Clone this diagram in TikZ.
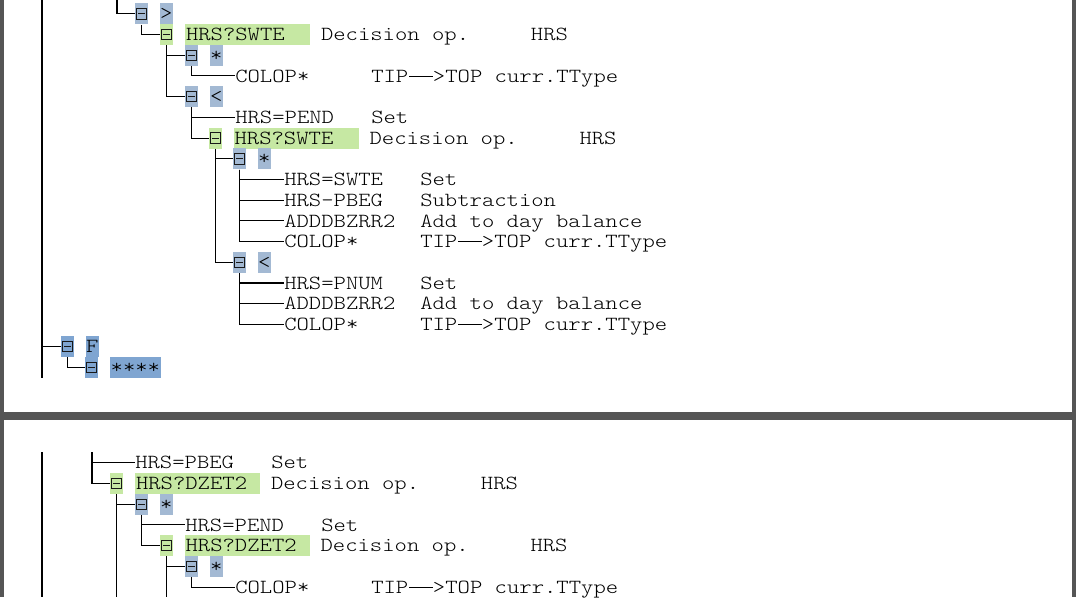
\documentclass[tikz,border=0pt]{standalone}
\usepackage{fontspec}
\usepackage{xcolor}
\usepackage{tikz}
\newfontfamily\codefont{lmmonolt10-regular}[Extension=.otf, FakeStretch=1.176]
\newcommand\treefont{\codefont\fontsize{15pt}{18pt}\selectfont}
\newcommand\longdash{\hspace{0.6pt}\rule[4.1pt]{17.6pt}{0.6pt}\hspace{0.3pt}}
\usetikzlibrary{positioning}

\definecolor{treeblue}{HTML}{A3B9D3}
\definecolor{markblue}{HTML}{7FA5D1}
\definecolor{treegreen}{HTML}{C6E8A3}
\definecolor{panegray}{HTML}{555555}

\tikzset{
  link/.style={line width=0.85pt, black},
  toggle/.style={fill=#1, minimum width=9.75pt, minimum height=15.75pt, inner sep=0pt,
    path picture={
      \draw[line width=0.7pt, black!90]
        ([shift={(-3.9pt,-3.9pt)}]path picture bounding box.center) rectangle
        ([shift={(3.9pt,3.9pt)}]path picture bounding box.center);
      \draw[line width=0.7pt, black!90]
        ([xshift=-2.3pt]path picture bounding box.center) --
        ([xshift=2.3pt]path picture bounding box.center);
    }},
  toggle/.default=treeblue,
  tag/.style={fill=#1, minimum width=9.75pt, minimum height=15.75pt, inner sep=0pt,
    font=\treefont, text height=9.2pt, text depth=0pt},
  tag/.default=treeblue,
  opname/.style={fill=treegreen, minimum height=15.75pt, inner xsep=0.75pt, inner ysep=0pt,
    text width=92.25pt, align=left, font=\treefont, text height=9.2pt, text depth=0pt},
  item/.style={inner sep=0pt, anchor=west, font=\treefont, text height=9.2pt, text depth=0pt}
}

\begin{document}
\begin{tikzpicture}[x=0.75pt, y=-0.75pt]
    \useasboundingbox (0,0) rectangle (1076,597);

    % pane frames
    \fill[panegray] (0,0) rectangle (4,597);
    \fill[panegray] (1072,0) rectangle (1076,597);
    \fill[panegray] (0,412) rectangle (1076,420);

    % upper pane
    \coordinate (up) at (117,0);
    \coordinate (rootup) at (42,0);
    \coordinate (rootdown) at (42,378);

    \node[toggle] (b0) at (141.5,13.8) {};
    \node[tag, right=8.5pt of b0] (l0) {>};
    \node[toggle=treegreen] (b1) at (166.5,34.5) {};
    \node[opname, right=8.6pt of b1] (n1) {HRS?SWTE};
    \node[item] (d1) at ([xshift=102pt]n1.west) {Decision op.~~~~~HRS};
    \node[toggle] (b2) at (191.5,55.2) {};
    \node[tag, right=8.5pt of b2] (l2) {*};
    \node[item] (t3) at (235,75.9) {COLOP*};
    \node[item] (d3) at ([xshift=102pt]t3.west) {TIP\longdash>TOP curr.TType};
    \node[toggle] (b4) at (191.5,96.6) {};
    \node[tag, right=8.5pt of b4] (l4) {<};
    \node[item] (t5) at (235,117.4) {HRS=PEND};
    \node[item] (d5) at ([xshift=102pt]t5.west) {Set};
    \node[toggle=treegreen] (b6) at (215.5,138.1) {};
    \node[opname, right=8.3pt of b6] (n6) {HRS?SWTE};
    \node[item] (d6) at ([xshift=102pt]n6.west) {Decision op.~~~~~HRS};

    % first branch
    \node[toggle] (b7) at (239.5,158.8) {};
    \node[tag, right=8.5pt of b7] (l7) {*};
    \node[item] (t8) at (284,179.5) {HRS=SWTE};
    \node[item] (d8) at ([xshift=102pt]t8.west) {Set};
    \node[item] (t9) at (284,200.2) {HRS-PBEG};
    \node[item] (d9) at ([xshift=102pt]t9.west) {Subtraction};
    \node[item] (t10) at (284,220.9) {ADDDBZRR2};
    \node[item] (d10) at ([xshift=102pt]t10.west) {Add to day balance};
    \node[item] (t11) at (284,241.6) {COLOP*};
    \node[item] (d11) at ([xshift=102pt]t11.west) {TIP\longdash>TOP curr.TType};

    % second branch
    \node[toggle] (b12) at (239.5,262.3) {};
    \node[tag, right=8.5pt of b12] (l12) {<};
    \node[item] (t13) at (284,283.0) {HRS=PNUM};
    \node[item] (d13) at ([xshift=102pt]t13.west) {Set};
    \node[item] (t14) at (284,303.7) {ADDDBZRR2};
    \node[item] (d14) at ([xshift=102pt]t14.west) {Add to day balance};
    \node[item] (t15) at (284,324.5) {COLOP*};
    \node[item] (d15) at ([xshift=102pt]t15.west) {TIP\longdash>TOP curr.TType};

    \node[toggle=markblue] (b16) at (67.5,346.2) {};
    \node[tag=markblue, right=8.5pt of b16] (l16) {F};
    \node[toggle=markblue] (b17) at (91.5,367.2) {};
    \node[tag=markblue, minimum width=38.25pt, right=8.5pt of b17] (l17) {****};

    \draw[link] (up) |- (b0.west);
    \draw[link] (b0.south) |- (b1.west);
    \draw[link] (b1.south) |- (b2.west);
    \draw[link] (b2.south) |- (t3.west);
    \draw[link] (b1.south) |- (b4.west);
    \draw[link] (b4.south) |- (t5.west);
    \draw[link] (b4.south) |- (b6.west);
    \draw[link] (b6.south) |- (b7.west);
    \foreach \t in {t8,t9,t10,t11}
        \draw[link] (b7.south) |- (\t.west);
    \draw[link] (b6.south) |- (b12.west);
    \foreach \t in {t13,t14,t15}
        \draw[link] (b12.south) |- (\t.west);
    \draw[link] (rootup) -- (rootdown);
    \draw[link] (rootup) |- (b16.west);
    \draw[link] (b16.south) |- (b17.west);

    % lower pane
    \coordinate (rootb) at (42,452);
    \coordinate (rootbend) at (42,597);
    \coordinate (upb) at (92,452);
    \coordinate (floor) at (0,597);

    \node[item] (u0) at (135,462.8) {HRS=PBEG};
    \node[item] (e0) at ([xshift=102pt]u0.west) {Set};
    \node[toggle=treegreen] (c1) at (116.5,483.5) {};
    \node[opname, right=8.6pt of c1] (m1) {HRS?DZET2};
    \node[item] (e1) at ([xshift=102pt]m1.west) {Decision op.~~~~~HRS};
    \node[toggle] (c2) at (141.5,504.2) {};
    \node[tag, right=8.5pt of c2] (k2) {*};
    \node[item] (u3) at (185,524.9) {HRS=PEND};
    \node[item] (e3) at ([xshift=102pt]u3.west) {Set};
    \node[toggle=treegreen] (c4) at (166.5,545.7) {};
    \node[opname, right=8.3pt of c4] (m4) {HRS?DZET2};
    \node[item] (e4) at ([xshift=102pt]m4.west) {Decision op.~~~~~HRS};
    \node[toggle] (c5) at (191.5,566.4) {};
    \node[tag, right=8.5pt of c5] (k5) {*};
    \node[item] (u6) at (235,587.1) {COLOP*};
    \node[item] (e6) at ([xshift=102pt]u6.west) {TIP\longdash>TOP curr.TType};

    \draw[link] (rootb) -- (rootbend);
    \draw[link] (upb) |- (u0.west);
    \draw[link] (upb) |- (c1.west);
    \draw[link] (c1.south) -- (c1.south |- floor);
    \draw[link] (c1.south) |- (c2.west);
    \draw[link] (c2.south) |- (u3.west);
    \draw[link] (c2.south) |- (c4.west);
    \draw[link] (c4.south) -- (c4.south |- floor);
    \draw[link] (c4.south) |- (c5.west);
    \draw[link] (c5.south) |- (u6.west);
\end{tikzpicture}
\end{document}
